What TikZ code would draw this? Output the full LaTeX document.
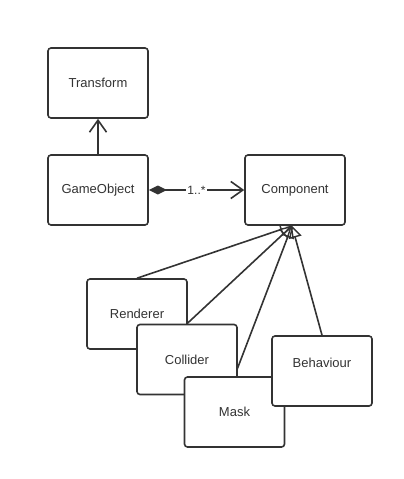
\documentclass[tikz,border=0pt]{standalone}
\usepackage{fontspec}
\setmainfont{Liberation Sans}
\usetikzlibrary{arrows.meta,backgrounds}
\definecolor{ink}{HTML}{333333}
\tikzset{
  umlbox/.style={draw=ink, line width=1.6pt, rounded corners=3pt, fill=white,
    minimum width=100pt, minimum height=70pt, inner sep=0pt, text=ink,
    font=\fontsize{13}{15}\selectfont},
  conn/.style={draw=ink, line width=1.6pt},
  openarrow/.style={-{Straight Barb[length=12pt,width=17pt,line width=1.6pt]}},
  inherit/.style={-{Triangle[open,length=12pt,width=13pt,line width=1.4pt]}},
  mult/.style={fill=white, inner sep=1pt, text=ink, font=\fontsize{12}{14}\selectfont}
}
\begin{document}
\begin{tikzpicture}[x=1pt,y=-1pt]
\useasboundingbox (0,0) rectangle (404,479);
\node[umlbox] (tr) at (98,83) {Transform};
\node[umlbox] (go) at (98,190) {GameObject};
\node[umlbox] (comp) at (295,190) {Component};
\node[umlbox] (rend) at (137,314) {Renderer};
\node[umlbox] (coll) at (187,359.5) {Collider};
\node[umlbox] (mask) at (234.5,412) {Mask};
\node[umlbox, label={[text=ink, font=\fontsize{13}{15}\selectfont, yshift=8pt]center:Behaviour}] (beh) at (322,371) {};
\begin{scope}[on background layer]
\draw[conn, openarrow] (go.north) -- (tr.south);
\draw[conn, {Diamond[length=18pt,width=9pt]}-{Straight Barb[length=12pt,width=17pt,line width=1.6pt]}] (go.east) -- node[mult] {1..*} (comp.west);
\draw[conn, inherit] (rend.north) -- ([xshift=-3pt]comp.south);
\draw[conn, inherit] (coll.north) -- ([xshift=-3pt]comp.south);
\draw[conn, inherit] (mask.north) -- ([xshift=-3pt]comp.south);
\draw[conn, inherit] (beh.north) -- ([xshift=-3pt]comp.south);
\end{scope}
\end{tikzpicture}
\end{document}
